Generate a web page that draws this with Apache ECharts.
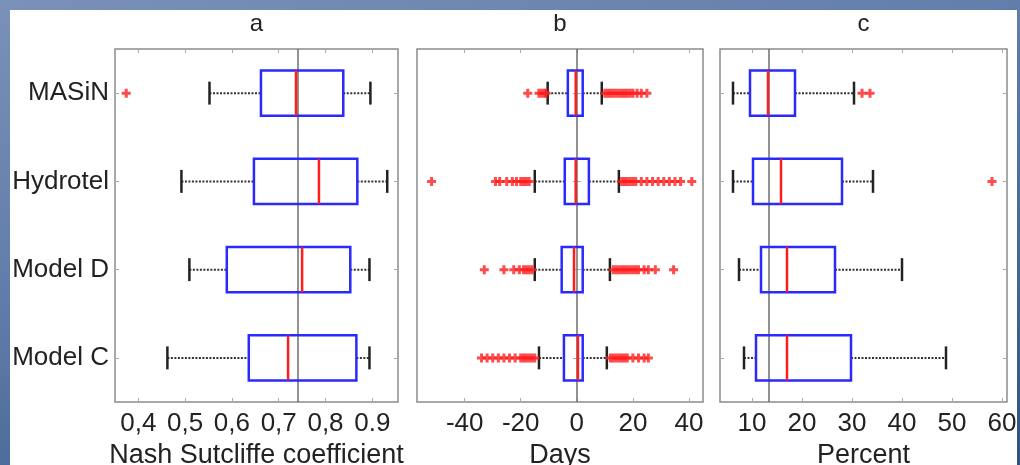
<!DOCTYPE html>
<html>
<head>
<meta charset="utf-8">
<script src="https://cdn.jsdelivr.net/npm/echarts@6/dist/echarts.min.js"></script>
<style>
  html, body { margin: 0; padding: 0; }
  body {
    width: 1020px; height: 465px; position: relative; overflow: hidden;
    background: linear-gradient(165deg, #7b91b7 0%, #5d7aa7 45%, #2f5183 100%);
  }
  #sheet { position: absolute; left: 10px; top: 10px; width: 1007px; height: 455px; background: #fff; }
  #chart { position: absolute; left: 0; top: 0; width: 1020px; height: 465px; }
</style>
</head>
<body>
<div id="sheet"></div>
<div id="chart"></div>
<script>
const models = ['MASiN', 'Hydrotel', 'Model D', 'Model C'];

// each box: [low whisker, q1, median, q3, high whisker]
const nashBoxes = [
  [0.552, 0.662, 0.737, 0.838, 0.896],
  [0.492, 0.647, 0.786, 0.868, 0.932],
  [0.509, 0.589, 0.750, 0.853, 0.894],
  [0.462, 0.636, 0.720, 0.866, 0.894]
];
const nashOutliers = [[0.374], [], [], []];
const nashTicks = [0.4, 0.5, 0.6, 0.7, 0.8, 0.9];
const nashTickLabels = ['0,4', '0,5', '0,6', '0,7', '0,8', '0.9'];

const daysBoxes = [
  [-10.4, -3.2, -0.4, 2.1, 8.9],
  [-15, -4.3, -0.4, 4.3, 15],
  [-15, -5.4, -1, 2.1, 11.8],
  [-13.5, -4.6, 0.4, 2.1, 10.7]
];
const daysOutliers = [
  [-17.5, -13.5, -12.5, -11.5, -11, 10, 11, 12, 13, 14, 15, 16, 17, 18, 19, 20, 21.5, 23, 25],
  [-51.8, -29, -27.5, -25, -23, -21.5, -20, -19, -18, -17, 16, 17, 18, 19, 20, 21, 23, 25, 27, 29, 31, 33, 35, 37, 41],
  [-33, -26, -22.5, -20.5, -19, -18, -17, -16, 13, 14, 15, 16, 17, 18, 19, 20, 21, 22, 24, 25.5, 28, 34.5],
  [-34, -32, -30, -28, -26, -24, -22, -20, -19, -18, -17, -16, -15, 12, 13, 14, 15, 16, 17, 18, 20, 22, 24, 25.5]
];
const daysTicks = [-40, -20, 0, 20, 40];
const daysTickLabels = ['-40', '-20', '0', '20', '40'];

const percentBoxes = [
  [6.2, 9.6, 13.2, 18.6, 30.4],
  [6.2, 10.2, 15.8, 28, 34.2],
  [7.4, 11.8, 17, 26.6, 40],
  [8.4, 10.8, 17, 29.8, 48.8]
];
const percentOutliers = [[32, 33.6], [58], [], []];
const percentTicks = [10, 20, 30, 40, 50, 60];
const percentTickLabels = ['10', '20', '30', '40', '50', '60'];

const panelTitles = ['a', 'b', 'c'];
const axisNames = ['Nash Sutcliffe coefficient', 'Days', 'Percent'];
const refLines = [0.737, 0, 13.4];

const font = "'Liberation Sans', Arial, sans-serif";
const panels = [
  { grid: { left: 115, width: 283 }, min: 0.35, max: 0.955, boxes: nashBoxes, outliers: nashOutliers, ticks: nashTicks, labels: nashTickLabels },
  { grid: { left: 417, width: 286 }, min: -57, max: 45, boxes: daysBoxes, outliers: daysOutliers, ticks: daysTicks, labels: daysTickLabels },
  { grid: { left: 720, width: 287 }, min: 3.6, max: 61, boxes: percentBoxes, outliers: percentOutliers, ticks: percentTicks, labels: percentTickLabels }
];

function renderBox(params, api) {
  const cat = api.value(0);
  const band = api.size([0, 1])[1];
  const h = band * 0.51;
  const cap = band * 0.26;
  const p = [1, 2, 3, 4, 5].map(d => api.coord([api.value(d), cat]));
  const y = p[0][1];
  const dotted = { stroke: '#333', lineWidth: 2, lineDash: [2, 1.5] };
  const edge = { stroke: '#222', lineWidth: 2.5 };
  return {
    type: 'group',
    children: [
      { type: 'line', shape: { x1: p[0][0], y1: y, x2: p[1][0], y2: y }, style: dotted },
      { type: 'line', shape: { x1: p[3][0], y1: y, x2: p[4][0], y2: y }, style: dotted },
      { type: 'line', shape: { x1: p[0][0], y1: y - cap / 2, x2: p[0][0], y2: y + cap / 2 }, style: edge },
      { type: 'line', shape: { x1: p[4][0], y1: y - cap / 2, x2: p[4][0], y2: y + cap / 2 }, style: edge },
      { type: 'rect', shape: { x: p[1][0], y: y - h / 2, width: p[3][0] - p[1][0], height: h },
        style: { fill: 'none', stroke: '#2a2aff', lineWidth: 2.5 } },
      { type: 'line', shape: { x1: p[2][0], y1: y - h / 2, x2: p[2][0], y2: y + h / 2 },
        style: { stroke: '#ff1e1e', lineWidth: 2.5 } }
    ]
  };
}

const grid = [], xAxis = [], yAxis = [], series = [], title = [];
panels.forEach((pn, gi) => {
  grid.push({ left: pn.grid.left, width: pn.grid.width, top: 49, height: 353, show: true,
    outerBoundsMode: 'none', containLabel: false,
    borderColor: '#8c8c8c', borderWidth: 1.5, backgroundColor: 'transparent' });
  title.push({ text: panelTitles[gi], left: pn.grid.left + pn.grid.width / 2, top: 12, textAlign: 'center', padding: 0,
    textStyle: { fontSize: 24, fontWeight: 'normal', color: '#222', fontFamily: font } });
  const tickStyle = { show: true, inside: true, length: 4, customValues: pn.ticks, lineStyle: { color: '#aaa' } };
  xAxis.push({
    type: 'value', gridIndex: gi, position: 'bottom', min: pn.min, max: pn.max,
    splitLine: { show: false }, axisLine: { show: false }, axisTick: tickStyle,
    axisLabel: {
      customValues: pn.ticks, fontSize: 26, color: '#222', fontFamily: font, margin: 9,
      formatter: v => pn.labels[pn.ticks.findIndex(t => Math.abs(t - v) < 1e-9)]
    },
    name: axisNames[gi], nameLocation: 'middle', nameGap: 33,
    nameTextStyle: { fontSize: 27, color: '#222', fontFamily: font }
  });
  xAxis.push({
    type: 'value', gridIndex: gi, position: 'top', min: pn.min, max: pn.max,
    splitLine: { show: false }, axisLine: { show: false }, axisTick: tickStyle, axisLabel: { show: false }
  });
  ['left', 'right'].forEach(pos => {
    yAxis.push({
      type: 'category', gridIndex: gi, position: pos, data: models, inverse: true,
      axisLine: { show: false },
      axisTick: { show: true, inside: true, length: 4, alignWithLabel: true, lineStyle: { color: '#aaa' } },
      axisLabel: { show: gi === 0 && pos === 'left', fontSize: 26, color: '#222', fontFamily: font, margin: 6 }
    });
  });
  series.push({
    type: 'custom', xAxisIndex: gi * 2, yAxisIndex: gi * 2, z: 3,
    data: pn.boxes.map((b, i) => [i, ...b]),
    encode: { x: [1, 2, 3, 4, 5], y: 0 },
    renderItem: renderBox,
    markLine: {
      silent: true, symbol: 'none', z: 1, animation: false,
      label: { show: false },
      lineStyle: { color: '#6e6e6e', width: 1.5, type: 'solid' },
      data: [{ xAxis: refLines[gi] }]
    }
  });
  series.push({
    type: 'scatter', xAxisIndex: gi * 2, yAxisIndex: gi * 2, z: 4,
    symbol: 'path://M3,0H6V3H9V6H6V9H3V6H0V3H3Z', symbolSize: 9,
    itemStyle: { color: '#ff1e1e' },
    data: pn.outliers.flatMap((vals, i) => vals.map(v => [v, i]))
  });
});

const chart = echarts.init(document.getElementById('chart'));
chart.setOption({
  animation: false,
  textStyle: { fontFamily: font },
  title, grid, xAxis, yAxis, series
});
</script>
</body>
</html>
